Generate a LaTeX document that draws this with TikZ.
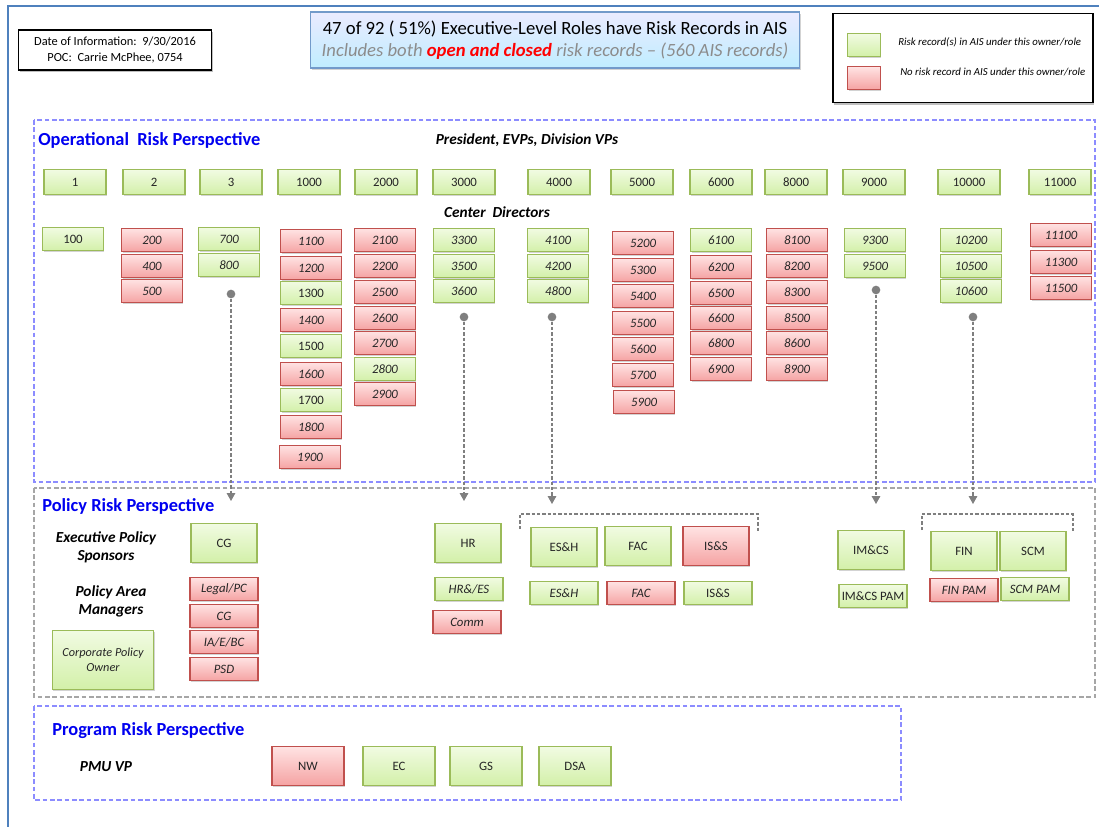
\documentclass[tikz,border=0pt]{standalone}
\usepackage{fontspec}
\setmainfont{Carlito}
\usepackage{tikz}
\usetikzlibrary{shadows,arrows.meta}
\definecolor{grnline}{HTML}{9BBB59}
\definecolor{grntop}{HTML}{F1FBE2}
\definecolor{grnbot}{HTML}{D3F0A9}
\definecolor{redline}{HTML}{C0504D}
\definecolor{redtop}{HTML}{FFE3E3}
\definecolor{redbot}{HTML}{F5A3A3}
\definecolor{frameblue}{HTML}{4F81BD}
\definecolor{opline}{HTML}{8C8CFF}
\definecolor{polline}{HTML}{A6A6A6}
\definecolor{headblue}{HTML}{0000F0}
\definecolor{linkgray}{HTML}{7F7F7F}
\definecolor{subgray}{HTML}{8C8C8C}
\newcommand{\cellfont}{\fontsize{9.6}{11}\selectfont}
\newcommand{\headfont}{\fontsize{13.8}{16}\selectfont\bfseries}
\newcommand{\rolefont}{\fontsize{11.5}{13.5}\selectfont\bfseries\itshape}
\tikzset{hasrec/.style = {draw=grnline, line width=0.8pt, top color=grntop, bottom color=grnbot, text=black!85, inner sep=0pt, font=\cellfont, drop shadow={shadow xshift=0.7pt, shadow yshift=-0.9pt, opacity=0.35}}}
\tikzset{norec/.style = {draw=redline, line width=0.8pt, top color=redtop, bottom color=redbot, text=black!85, inner sep=0pt, font=\cellfont, drop shadow={shadow xshift=0.7pt, shadow yshift=-0.9pt, opacity=0.35}}}
\tikzset{vp/.style = {minimum width=46.5pt, minimum height=18.5pt}}
\tikzset{cd/.style = {minimum width=45.5pt, minimum height=17.5pt, font=\cellfont\itshape}}
\tikzset{eps/.style = {minimum width=49.5pt, minimum height=29pt}}
\tikzset{pam/.style = {minimum width=51pt, minimum height=17.5pt}}
\tikzset{pmu/.style = {minimum width=54pt, minimum height=29pt}}
\tikzset{dot/.style = {circle, fill=linkgray, inner sep=0pt, minimum size=6.5pt}}
\tikzset{link/.style = {draw, color=linkgray, dash pattern=on 2.5pt off 1.5pt, line width=0.8pt, -{Triangle[length=6pt,width=6.5pt]}}}
\tikzset{bracket/.style = {draw=linkgray, dash pattern=on 2.5pt off 1.5pt, line width=0.8pt}}
\tikzset{section/.style = {draw=opline, dash pattern=on 3.5pt off 2pt, line width=1.1pt}}
\tikzset{head/.style = {anchor=west, inner sep=0pt, text=headblue, font=\headfont}}
\tikzset{role/.style = {align=center, inner sep=0pt, font=\rolefont}}

\begin{document}
\begin{tikzpicture}[x=0.75pt, y=-0.75pt]
\useasboundingbox (0,0) rectangle (1099,827);
\draw[frameblue, line width=1.6pt] (8,827) -- (8,6) -- (1099,6);

\node[draw, line width=1.2pt, fill=white, minimum width=145pt, minimum height=30pt, align=center, font=\fontsize{9.3}{12}\selectfont, drop shadow={shadow xshift=1pt, shadow yshift=-1.5pt, opacity=0.5}] (date) at (115,50) {Date of Information:\ \ 9/30/2016\\POC:\ \ Carrie McPhee, 0754};
\node[draw=frameblue!80, line width=0.8pt, top color=blue!8, bottom color=blue!28!cyan!25, minimum width=367pt, minimum height=42pt, align=center, font=\fontsize{14}{17}\selectfont, drop shadow={shadow xshift=1pt, shadow yshift=-1.5pt, opacity=0.35}] (title) at (555,40) {47 of 92 ( 51\%) Executive-Level Roles have Risk Records in AIS\\{\color{subgray}\itshape Includes both {\color{red}\bfseries open and closed} risk records -- (560 AIS records)}};
\node[draw, line width=1.2pt, fill=white, minimum width=195pt, minimum height=67pt, drop shadow={shadow xshift=1pt, shadow yshift=-1.5pt, opacity=0.5}] (legend) at (963,58) {};
\node[hasrec, minimum width=24.5pt, minimum height=17pt] (lgyes) at (864,45) {};
\node[norec, minimum width=24.5pt, minimum height=17pt] (lgno) at (864,78) {};
\node[anchor=west, inner sep=0pt, font=\fontsize{8.1}{9}\selectfont\itshape] (lgyestext) at (898,42) {Risk record(s) in AIS under this owner/role};
\node[anchor=west, inner sep=0pt, font=\fontsize{8.1}{9}\selectfont\itshape] (lgnotext) at (900,72) {No risk record in AIS under this owner/role};

\draw[section] (34,120) rectangle (1095,482);
\node[head] (ophead) at (38,140) {Operational\ \ Risk Perspective};
\node[role] (evps) at (527,140) {President, EVPs, Division VPs};
\node[role] (cdirs) at (497,212) {Center\ \ Directors};

\node[hasrec, vp] (n1) at (75,182) {1};
\node[hasrec, vp] (n2) at (154,182) {2};
\node[hasrec, vp] (n3) at (231,182) {3};
\node[hasrec, vp] (n1000) at (309,182) {1000};
\node[hasrec, vp] (n2000) at (386,182) {2000};
\node[hasrec, vp] (n3000) at (464,182) {3000};
\node[hasrec, vp] (n4000) at (559,182) {4000};
\node[hasrec, vp] (n5000) at (642,182) {5000};
\node[hasrec, vp] (n6000) at (721,182) {6000};
\node[hasrec, vp] (n8000) at (796,182) {8000};
\node[hasrec, vp] (n9000) at (874,182) {9000};
\node[hasrec, vp] (n10000) at (969,182) {10000};
\node[hasrec, vp] (n11000) at (1060,182) {11000};

\node[hasrec, cd, font=\cellfont] (n100) at (73,239) {100};
\node[norec, cd] (n200) at (152,240) {200};
\node[norec, cd] (n400) at (152,266) {400};
\node[norec, cd] (n500) at (152,291) {500};
\node[hasrec, cd] (n700) at (229,239) {700};
\node[hasrec, cd] (n800) at (229,265) {800};

\node[norec, cd] (n1100) at (311,241) {1100};
\node[norec, cd] (n1200) at (311,268) {1200};
\node[hasrec, cd, font=\cellfont] (n1300) at (311,293) {1300};
\node[norec, cd] (n1400) at (311,320) {1400};
\node[hasrec, cd, font=\cellfont] (n1500) at (311,346) {1500};
\node[norec, cd] (n1600) at (311,374) {1600};
\node[hasrec, cd, font=\cellfont] (n1700) at (311,400) {1700};
\node[norec, cd] (n1800) at (311,427) {1800};
\node[norec, cd] (n1900) at (310,457) {1900};

\node[norec, cd] (n2100) at (385,240) {2100};
\node[norec, cd] (n2200) at (385,266) {2200};
\node[norec, cd] (n2500) at (385,292) {2500};
\node[norec, cd] (n2600) at (385,318) {2600};
\node[norec, cd] (n2700) at (385,343) {2700};
\node[hasrec, cd] (n2800) at (385,369) {2800};
\node[norec, cd] (n2900) at (385,394) {2900};

\node[hasrec, cd] (n3300) at (464,240) {3300};
\node[hasrec, cd] (n3500) at (464,266) {3500};
\node[hasrec, cd] (n3600) at (464,291) {3600};

\node[hasrec, cd] (n4100) at (558,240) {4100};
\node[hasrec, cd] (n4200) at (558,266) {4200};
\node[hasrec, cd] (n4800) at (558,291) {4800};

\node[norec, cd] (n5200) at (643,243) {5200};
\node[norec, cd] (n5300) at (643,270) {5300};
\node[norec, cd] (n5400) at (643,296) {5400};
\node[norec, cd] (n5500) at (643,323) {5500};
\node[norec, cd] (n5600) at (643,349) {5600};
\node[norec, cd] (n5700) at (643,375) {5700};
\node[norec, cd] (n5900) at (644,402) {5900};

\node[hasrec, cd] (n6100) at (721,240) {6100};
\node[norec, cd] (n6200) at (721,267) {6200};
\node[norec, cd] (n6500) at (721,293) {6500};
\node[norec, cd] (n6600) at (721,318) {6600};
\node[norec, cd] (n6800) at (721,343) {6800};
\node[norec, cd] (n6900) at (721,369) {6900};

\node[norec, cd] (n8100) at (797,240) {8100};
\node[norec, cd] (n8200) at (797,266) {8200};
\node[norec, cd] (n8300) at (797,292) {8300};
\node[norec, cd] (n8500) at (797,318) {8500};
\node[norec, cd] (n8600) at (797,343) {8600};
\node[norec, cd] (n8900) at (797,369) {8900};

\node[hasrec, cd] (n9300) at (875,240) {9300};
\node[hasrec, cd] (n9500) at (875,266) {9500};

\node[hasrec, cd] (n10200) at (971,240) {10200};
\node[hasrec, cd] (n10500) at (971,266) {10500};
\node[hasrec, cd] (n10600) at (971,291) {10600};

\node[norec, cd] (n11100) at (1061,235) {11100};
\node[norec, cd] (n11300) at (1061,262) {11300};
\node[norec, cd] (n11500) at (1061,288) {11500};

\draw[section, draw=polline] (34,488) rectangle (1095,697);
\node[head] (polhead) at (42,506) {Policy Risk Perspective};
\node[role] (sponsors) at (106,547) {Executive Policy\\Sponsors};
\node[role] (areamgrs) at (111,601) {Policy Area\\Managers};
\node[hasrec, minimum width=76pt, minimum height=44pt, align=center, font=\fontsize{9.2}{11.5}\selectfont\itshape] (corp) at (103,660) {Corporate Policy\\Owner};

\node[hasrec, eps] (cg) at (224,543) {CG};
\node[norec, pam, font=\cellfont\itshape] (legal) at (224,589) {Legal/PC};
\node[norec, pam, font=\cellfont\itshape] (cgpam) at (224,616) {CG};
\node[norec, pam, font=\cellfont\itshape] (iaebc) at (224,642) {IA/E/BC};
\node[norec, pam, font=\cellfont\itshape] (psd) at (224,669) {PSD};

\node[hasrec, eps] (hr) at (468,543) {HR};
\node[hasrec, pam, font=\cellfont\itshape] (hres) at (469,589) {HR\&/ES};
\node[norec, pam, font=\cellfont\itshape] (comm) at (467,622) {Comm};

\node[hasrec, eps] (esh) at (564,547) {ES\&H};
\node[hasrec, eps] (fac) at (638,546) {FAC};
\node[norec, eps] (iss) at (716,546) {IS\&S};
\node[hasrec, pam, font=\cellfont\itshape] (eshpam) at (564,593) {ES\&H};
\node[norec, pam, font=\cellfont\itshape] (facpam) at (641,593) {FAC};
\node[hasrec, pam] (isspam) at (718,593) {IS\&S};

\node[hasrec, eps] (imcs) at (871,550) {IM\&CS};
\node[hasrec, pam] (imcspam) at (873,596) {IM\&CS PAM};
\node[hasrec, eps] (fin) at (964,551) {FIN};
\node[hasrec, eps] (scm) at (1033,551) {SCM};
\node[norec, pam, font=\cellfont\itshape] (finpam) at (964,590) {FIN PAM};
\node[hasrec, pam, font=\cellfont\itshape] (scmpam) at (1035,589) {SCM PAM};

\node[dot] (d800) at (231,294) {};
\node[dot] (d3600) at (464,317) {};
\node[dot] (d4800) at (552,317) {};
\node[dot] (d9500) at (876,290) {};
\node[dot] (d10600) at (973,317) {};
\coordinate (cgin) at (231,501);
\coordinate (hrin) at (464,501);
\coordinate (eshin) at (552,504);
\coordinate (imcsin) at (876,504);
\coordinate (finin) at (973,504);
\path[link] (d800) edge (cgin);
\path[link] (d3600) edge (hrin);
\path[link] (d4800) edge (eshin);
\path[link] (d9500) edge (imcsin);
\path[link] (d10600) edge (finin);

\draw[bracket] (520,529) |- (758,514) -- (758,531);
\draw[bracket] (922,530) |- (1073,514) -- (1073,531);

\draw[section] (34,706) rectangle (901,800);
\node[head] (proghead) at (52,731) {Program Risk Perspective};
\node[role] (pmuvp) at (106,767) {PMU VP};
\node[norec, pmu] (nw) at (308,766) {NW};
\node[hasrec, pmu] (ec) at (399,766) {EC};
\node[hasrec, pmu] (gs) at (486,766) {GS};
\node[hasrec, pmu] (dsa) at (575,766) {DSA};
\end{tikzpicture}
\end{document}
